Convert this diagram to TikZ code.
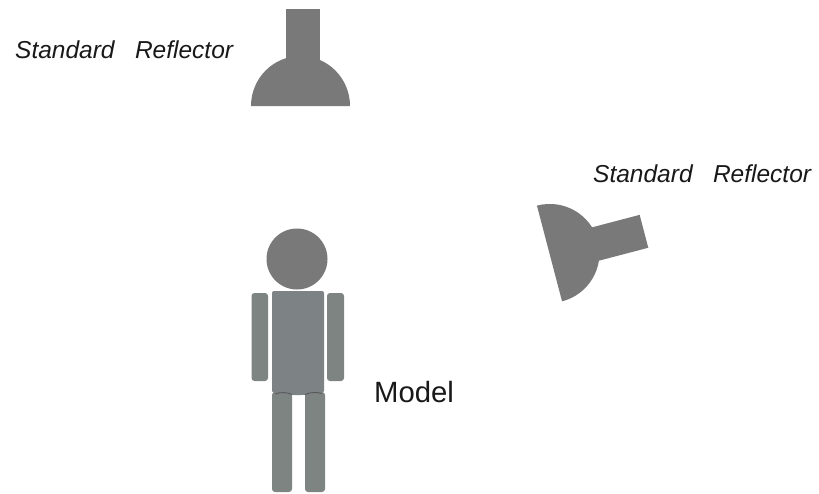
\documentclass[tikz,border=0pt]{standalone}
\usepackage{fontspec}
\setmainfont{Liberation Sans}
\tikzset{
  lampfill/.style={fill=lampgray,draw=none},
  bodyfill/.style={fill=bodygray,draw=none},
  limbfill/.style={fill=limbgray,draw=none,rounded corners=3pt},
  lamplabel/.style={font=\fontsize{24.5}{28}\selectfont\itshape,anchor=west,inner sep=0pt,text=black!90},
  modellabel/.style={font=\fontsize{29.3}{33}\selectfont,anchor=west,inner sep=0pt,text=black!90},
  pics/lamp/.style={code={
    \fill[lampfill] (-14.5,40) -- (-14.5,97) -- (19.5,97) -- (19.5,40) -- cycle;
    \fill[lampfill] (-49.5,0) arc[start angle=180,end angle=0,x radius=49.5,y radius=50] -- cycle;
  }}
}
\definecolor{lampgray}{HTML}{797979}
\definecolor{bodygray}{HTML}{7D8385}
\definecolor{limbgray}{HTML}{7E8482}
\begin{document}
\begin{tikzpicture}[x=1pt,y=1pt]
\useasboundingbox (0,-493) rectangle (819,0);
\fill[white] (0,-493) rectangle (819,0);
% lamps
\pic at (300.5,-106) {lamp};
\pic[rotate=-75.3] at (549.5,-253.5) {lamp};
% figure
\fill[lampfill] (297,-259) circle[radius=30.5];
\fill[limbfill] (272,-492) rectangle (292,-392);
\fill[limbfill] (305,-492) rectangle (325,-392);
\fill[bodyfill,rounded corners=2pt] (272,-291) -- (324,-291) -- (324,-393) -- (303,-395) -- (292,-395) -- (272,-393) -- cycle;
\fill[limbfill] (251.5,-381) rectangle (268,-293);
\fill[limbfill] (327,-381) rectangle (344,-293);
\draw[black!65,line width=0.9pt] (275,-394) .. controls (280,-392) and (287,-392) .. (292,-394.5);
\draw[black!65,line width=0.9pt] (305,-394.5) .. controls (310,-392) and (317,-392) .. (322,-393.5);
% labels
\node[lamplabel] (labelone) at (15,-50) {Standard\ \ \ Reflector};
\node[lamplabel] (labeltwo) at (593,-174) {Standard\ \ \ Reflector};
\node[modellabel] (labelmodel) at (374,-392) {Model};
\end{tikzpicture}
\end{document}
